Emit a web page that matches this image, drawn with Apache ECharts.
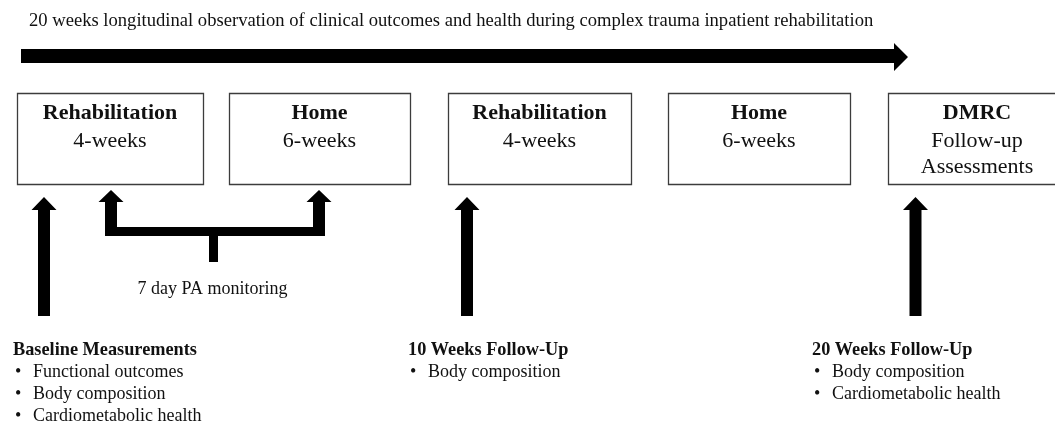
<!DOCTYPE html>
<html>
<head>
<meta charset="utf-8">
<script src="https://cdn.jsdelivr.net/npm/echarts@6/dist/echarts.min.js"></script>
<style>
html,body{margin:0;padding:0;background:#fff;}
#chart{width:1055px;height:424px;}
</style>
</head>
<body>
<div id="chart"></div>
<script>
// ---- content ----
const titleText = '20 weeks longitudinal observation of clinical outcomes and health during complex trauma inpatient rehabilitation';
const phases = ['Rehabilitation', 'Home', 'Rehabilitation', 'Home', 'DMRC'];
const phaseDetails = [['4-weeks'], ['6-weeks'], ['4-weeks'], ['6-weeks'], ['Follow-up', 'Assessments']];
const timepoints = ['Baseline Measurements', '10 Weeks Follow-Up', '20 Weeks Follow-Up'];
const timepointItems = [
  ['Functional outcomes', 'Body composition', 'Cardiometabolic health'],
  ['Body composition'],
  ['Body composition', 'Cardiometabolic health']
];
const monitoringLabel = '7 day PA monitoring';

// ---- layout (diagram geometry, in canvas units) ----
const W = 1055, H = 424;
const SERIF = '"Liberation Serif", "Times New Roman", serif';
const L = {
  titleX: 29, titleY: 21,
  bar: {x0: 21, x1: 894, y0: 49, y1: 63, tip: 908, headY0: 43, headY1: 71},
  boxX: [17, 229, 448, 668, 888],
  boxW: [186, 181, 183, 182, 178],
  boxTop: 93, boxBottom: 184,
  boxLineY: [113, 141, 167],
  arrowCx: [44, 467, 915.5],
  arrowTip: 197, arrowHeadBase: 210, arrowBottom: 316,
  shaftHalf: 6, headHalf: 12.5,
  textX: [13, 408, 812],
  headY: 350, itemY0: 372, itemDy: 22.3, bulletDx: 2, itemDx: 20,
  bracket: {lx: 111, rx: 319, tip: 190, headBase: 202, barTop: 227, barBottom: 236,
            stemX0: 209, stemX1: 218, stemBottom: 262},
  monX: 212.5, monY: 289
};

function pts(api, list) { return list.map(p => api.coord(p)); }

const option = {
  animation: false,
  grid: {left: 0, right: 0, top: 0, bottom: 0},
  xAxis: {type: 'value', min: 0, max: W, show: false},
  yAxis: {type: 'value', min: 0, max: H, inverse: true, show: false},
  series: [
    { // title + timeline arrow
      type: 'custom', clip: false, data: [[0]],
      renderItem: function (params, api) {
        const b = L.bar;
        const t = api.coord([L.titleX, L.titleY]);
        return {type: 'group', children: [
          {type: 'text', style: {text: titleText, x: t[0], y: t[1], fill: '#111',
            font: 'normal 18.6px ' + SERIF, align: 'left', verticalAlign: 'middle'}},
          {type: 'polygon', shape: {points: pts(api, [
            [b.x0, b.y0], [b.x1, b.y0], [b.x1, b.headY0], [b.tip, (b.headY0 + b.headY1) / 2],
            [b.x1, b.headY1], [b.x1, b.y1], [b.x0, b.y1]])}, style: {fill: '#000'}}
        ]};
      }
    },
    { // phase boxes
      type: 'custom', clip: false,
      data: phases.map((p, i) => ({name: p, value: [i]})),
      renderItem: function (params, api) {
        const i = api.value(0);
        const x0 = L.boxX[i], x1 = x0 + L.boxW[i];
        const p0 = api.coord([x0, L.boxTop]), p1 = api.coord([x1, L.boxBottom]);
        const cx = (p0[0] + p1[0]) / 2;
        const children = [
          {type: 'rect', shape: {x: p0[0] + 0.5, y: p0[1] + 0.5, width: p1[0] - p0[0], height: p1[1] - p0[1]},
           style: {fill: '#fff', stroke: '#3c3c3c', lineWidth: 1.3}},
          {type: 'text', style: {text: phases[i], x: cx, y: api.coord([0, L.boxLineY[0]])[1],
            fill: '#111', font: 'bold 22px ' + SERIF, align: 'center', verticalAlign: 'middle'}}
        ];
        phaseDetails[i].forEach((d, k) => {
          children.push({type: 'text', style: {text: d, x: cx, y: api.coord([0, L.boxLineY[k + 1]])[1],
            fill: '#111', font: 'normal 22px ' + SERIF, align: 'center', verticalAlign: 'middle'}});
        });
        return {type: 'group', children: children};
      }
    },
    { // measurement arrows + texts
      type: 'custom', clip: false,
      data: timepoints.map((t, i) => ({name: t, value: [i]})),
      renderItem: function (params, api) {
        const i = api.value(0);
        const c = L.arrowCx[i], s = L.shaftHalf, h = L.headHalf;
        const children = [
          {type: 'polygon', shape: {points: pts(api, [
            [c, L.arrowTip], [c + h, L.arrowHeadBase], [c + s, L.arrowHeadBase], [c + s, L.arrowBottom],
            [c - s, L.arrowBottom], [c - s, L.arrowHeadBase], [c - h, L.arrowHeadBase]])},
           style: {fill: '#000'}}
        ];
        const hp = api.coord([L.textX[i], L.headY]);
        children.push({type: 'text', style: {text: timepoints[i], x: hp[0], y: hp[1], fill: '#111',
          font: 'bold 18.3px ' + SERIF, align: 'left', verticalAlign: 'middle'}});
        timepointItems[i].forEach((it, k) => {
          const y = L.itemY0 + k * L.itemDy;
          const bp = api.coord([L.textX[i] + L.bulletDx, y]);
          const tp = api.coord([L.textX[i] + L.itemDx, y]);
          children.push({type: 'text', style: {text: '•', x: bp[0], y: bp[1], fill: '#111',
            font: 'normal 18px ' + SERIF, align: 'left', verticalAlign: 'middle'}});
          children.push({type: 'text', style: {text: it, x: tp[0], y: tp[1], fill: '#111',
            font: 'normal 18px ' + SERIF, align: 'left', verticalAlign: 'middle'}});
        });
        return {type: 'group', children: children};
      }
    },
    { // PA monitoring bracket
      type: 'custom', clip: false, data: [{name: monitoringLabel, value: [0]}],
      renderItem: function (params, api) {
        const B = L.bracket, s = L.shaftHalf, h = L.headHalf;
        const poly = [
          [B.lx, B.tip], [B.lx + h, B.headBase], [B.lx + s, B.headBase], [B.lx + s, B.barTop],
          [B.rx - s, B.barTop], [B.rx - s, B.headBase], [B.rx - h, B.headBase], [B.rx, B.tip],
          [B.rx + h, B.headBase], [B.rx + s, B.headBase], [B.rx + s, B.barBottom],
          [B.stemX1, B.barBottom], [B.stemX1, B.stemBottom], [B.stemX0, B.stemBottom], [B.stemX0, B.barBottom],
          [B.lx - s, B.barBottom], [B.lx - s, B.headBase], [B.lx - h, B.headBase]
        ];
        const m = api.coord([L.monX, L.monY]);
        return {type: 'group', children: [
          {type: 'polygon', shape: {points: pts(api, poly)}, style: {fill: '#000'}},
          {type: 'text', style: {text: monitoringLabel, x: m[0], y: m[1], fill: '#111',
            font: 'normal 18px ' + SERIF, align: 'center', verticalAlign: 'middle'}}
        ]};
      }
    }
  ]
};

const chart = echarts.init(document.getElementById('chart'), null, {renderer: 'canvas'});
chart.setOption(option);
</script>
</body>
</html>
